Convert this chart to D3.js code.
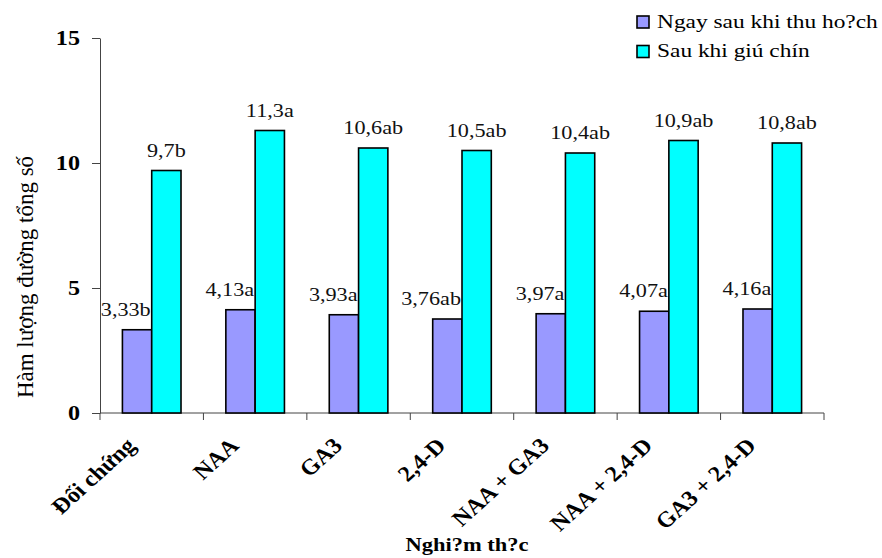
<!DOCTYPE html>
<html>
<head>
<meta charset="utf-8">
<script src="https://cdn.jsdelivr.net/npm/d3@7"></script>
<style>
  html, body { margin: 0; padding: 0; background: #fff; }
  svg { display: block; font-family: "Liberation Serif", "Times New Roman", serif; }
</style>
</head>
<body>
<svg id="chart" width="882" height="558"></svg>
<script>
// Treatments and total sugar content (two sampling times)
const categories = ["Đối chứng", "NAA", "GA3", "2,4-D", "NAA + GA3", "NAA + 2,4-D", "GA3 + 2,4-D"];
const seriesNames = ["Ngay sau khi thu ho?ch", "Sau khi giú chín"];
const afterHarvest = [3.33, 4.13, 3.93, 3.76, 3.97, 4.07, 4.16];
const afterRipening = [9.7, 11.3, 10.6, 10.5, 10.4, 10.9, 10.8];
const afterHarvestLetters = ["b", "a", "a", "ab", "a", "a", "a"];
const afterRipeningLetters = ["b", "a", "ab", "ab", "ab", "ab", "ab"];
const yTicks = [0, 5, 10, 15];
const yTitle = "Hàm lượng đường tổng số";
const xTitle = "Nghi?m th?c";

const colors = ["#9999FF", "#00FFFF"];
const fmt = v => String(v).replace(".", ",");

const svg = d3.select("#chart");

const x = d3.scaleBand().domain(categories).range([100, 824]).paddingInner(0).paddingOuter(0);
const xs = d3.scaleBand().domain(seriesNames).range([0, x.bandwidth()]).paddingInner(0).paddingOuter(0.765);
const y = d3.scaleLinear().domain([0, 15]).range([413, 38]);

const rows = categories.map((c, i) => ({
  cat: c,
  vals: [
    { s: seriesNames[0], v: afterHarvest[i], lab: fmt(afterHarvest[i]) + afterHarvestLetters[i] },
    { s: seriesNames[1], v: afterRipening[i], lab: fmt(afterRipening[i]) + afterRipeningLetters[i] }
  ]
}));

// Y axis
const yAxis = svg.append("g")
  .attr("transform", "translate(100,0)")
  .call(d3.axisLeft(y).tickValues(yTicks).tickSize(8).tickPadding(12).tickSizeOuter(0));
yAxis.select(".domain").attr("stroke", "#444");
yAxis.selectAll(".tick line").attr("stroke", "#444");
yAxis.selectAll(".tick text")
  .attr("x", null)
  .attr("transform", "translate(-20,0) scale(1.15,1)")
  .attr("font-size", 21)
  .attr("font-weight", "bold")
  .attr("font-family", "Liberation Serif, Times New Roman, serif")
  .attr("fill", "#000");

// X axis line with ticks at category boundaries
const xAxis = svg.append("g").attr("transform", `translate(0,${y(0)})`);
xAxis.append("line")
  .attr("x1", x.range()[0]).attr("x2", x.range()[1])
  .attr("stroke", "#444");
xAxis.selectAll("line.tk")
  .data(categories.map(c => x(c)).concat([x.range()[1]]))
  .join("line")
  .attr("class", "tk")
  .attr("x1", d => d).attr("x2", d => d)
  .attr("y1", 0).attr("y2", 7)
  .attr("stroke", "#444");

// Bars
const groups = svg.append("g").selectAll("g")
  .data(rows)
  .join("g")
  .attr("transform", d => `translate(${x(d.cat)},0)`);

groups.selectAll("rect")
  .data(d => d.vals)
  .join("rect")
  .attr("x", d => xs(d.s))
  .attr("y", d => y(d.v))
  .attr("width", xs.bandwidth())
  .attr("height", d => y(0) - y(d.v))
  .attr("fill", (d, i) => colors[i])
  .attr("stroke", "#000")
  .attr("stroke-width", 1.6);

// Value labels
groups.selectAll("text.val")
  .data(d => d.vals)
  .join("text")
  .attr("class", "val")
  .attr("transform", (d, i) => {
    const px = i === 0 ? xs(d.s) + xs.bandwidth() - 1 : xs(d.s) + xs.bandwidth() / 2;
    return `translate(${px},${y(d.v) - 14}) scale(1.2,1)`;
  })
  .attr("text-anchor", (d, i) => i === 0 ? "end" : "middle")
  .attr("font-size", 18.5)
  .attr("fill", "#111")
  .text(d => d.lab);

// Category labels, rotated
svg.append("g").selectAll("text")
  .data(categories)
  .join("text")
  .attr("transform", d => `translate(${x(d) + x.bandwidth() / 2 - 15},447) scale(1.1,1) rotate(-45)`)
  .attr("text-anchor", "end")
  .attr("font-size", 22)
  .attr("font-weight", "bold")
  .attr("fill", "#000")
  .text(d => d);

// Axis titles
svg.append("text")
  .attr("transform", "translate(33,277) rotate(-90)")
  .attr("text-anchor", "middle")
  .attr("font-size", 23)
  .attr("fill", "#000")
  .text(yTitle);

svg.append("text")
  .attr("transform", "translate(467,551) scale(1.25,1)")
  .attr("text-anchor", "middle")
  .attr("font-size", 18)
  .attr("font-weight", "bold")
  .attr("fill", "#000")
  .text(xTitle);

// Legend
const legend = svg.append("g").selectAll("g")
  .data(seriesNames)
  .join("g")
  .attr("transform", (d, i) => `translate(637,${16 + i * 29.5})`);
legend.append("rect")
  .attr("width", 12).attr("height", 12)
  .attr("fill", (d, i) => colors[i])
  .attr("stroke", "#000")
  .attr("stroke-width", 1.6);
legend.append("text")
  .attr("transform", "translate(20,11.5) scale(1.3,1)")
  .attr("font-size", 18)
  .attr("fill", "#000")
  .text(d => d);
</script>
</body>
</html>
